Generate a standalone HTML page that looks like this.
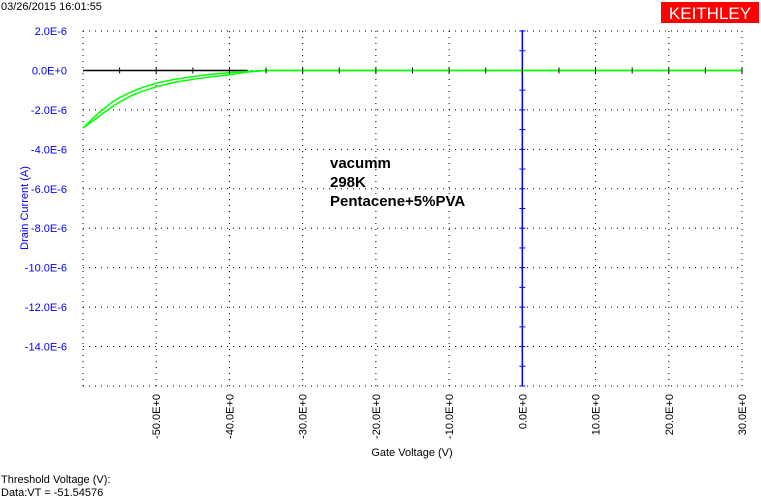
<!DOCTYPE html>
<html><head><meta charset="utf-8"><style>
html,body{margin:0;padding:0;background:#fff;width:761px;height:498px;overflow:hidden;font-family:"Liberation Sans",sans-serif;}
</style></head><body>
<svg id="chart" width="761" height="498" xmlns="http://www.w3.org/2000/svg" font-family="Liberation Sans, sans-serif">
<text x="1" y="10" font-size="11" fill="#000">03/26/2015 16:01:55</text>
<rect x="661" y="2" width="98" height="21" fill="#ff0000"/>
<text x="710" y="19" font-size="17" fill="#fff" text-anchor="middle">KEITHLEY</text>
<g id="grid"></g>
<g id="axes"></g>
<g id="series"></g>
<text x="330" y="168" font-size="15" font-weight="bold">vacumm</text>
<text x="330" y="187" font-size="15" font-weight="bold">298K</text>
<text x="330" y="206" font-size="15" font-weight="bold">Pentacene+5%PVA</text>
<text transform="translate(28,208) rotate(-90)" font-size="11" fill="#0000ff" text-anchor="middle">Drain Current (A)</text>
<text x="412" y="456" font-size="11" text-anchor="middle">Gate Voltage (V)</text>
<text x="1" y="483" font-size="11">Threshold Voltage (V):</text>
<text x="1" y="496" font-size="11">Data:VT = -51.54576</text>
</svg>
<script>
const xTicks=[-50,-40,-30,-20,-10,0,10,20,30];
const xTickLabels=["-50.0E+0","-40.0E+0","-30.0E+0","-20.0E+0","-10.0E+0","0.0E+0","10.0E+0","20.0E+0","30.0E+0"];
const yTicks=[2,0,-2,-4,-6,-8,-10,-12,-14];
const yTickLabels=["2.0E-6","0.0E+0","-2.0E-6","-4.0E-6","-6.0E-6","-8.0E-6","-10.0E-6","-12.0E-6","-14.0E-6"];
const gateV=[-60,-59,-58,-57,-56,-55,-53.5,-52,-50,-47.5,-45,-42.5,-40,-37.5,-35,-30,-20,-10,0,10,20,30];
const currentFwd=[-2.92,-2.55,-2.2,-1.9,-1.6,-1.38,-1.1,-0.88,-0.64,-0.45,-0.31,-0.19,-0.11,-0.05,0,0,0,0,0,0,0,0];
const currentRev=[-2.92,-2.65,-2.38,-2.1,-1.85,-1.6,-1.3,-1.07,-0.83,-0.6,-0.45,-0.32,-0.22,-0.08,0,0,0,0,0,0,0,0];
const NS="http://www.w3.org/2000/svg";
const X0=83,X1=742,Y0=31,Y1=386,xmin=-60,xmax=30,ymin=-16,ymax=2;
const sx=v=>X0+(v-xmin)/(xmax-xmin)*(X1-X0);
const sy=v=>Y0+(ymax-v)/(ymax-ymin)*(Y1-Y0);
function mk(tag,at,parent){const e=document.createElementNS(NS,tag);for(const k in at)e.setAttribute(k,at[k]);document.getElementById(parent).appendChild(e);return e;}
[-60,...xTicks].forEach(v=>{const l=mk('line',{x1:sx(v),x2:sx(v),y1:Y0,y2:Y1,stroke:'#000','stroke-dasharray':'1,5'},'grid');

});
[...yTicks,-16].forEach(v=>{const l=mk('line',{x1:X0,x2:X1,y1:sy(v),y2:sy(v),stroke:'#000','stroke-dasharray':'1,5'},'grid');

});
yTicks.forEach((v,i)=>{const t=mk('text',{x:67,y:sy(v)+4,'font-size':11,fill:'#0000ff','text-anchor':'end'},'axes');t.textContent=yTickLabels[i];

});
xTicks.forEach((v,i)=>{const t=mk('text',{transform:`translate(${sx(v)+4},394) rotate(-90)`,'font-size':11,fill:'#000','text-anchor':'end'},'axes');t.textContent=xTickLabels[i];

});
const zl=mk('line',{x1:X0,x2:sx(-37.5),y1:sy(0),y2:sy(0),stroke:'#000','stroke-width':1.5},'axes');


const va=mk('line',{x1:sx(0),x2:sx(0),y1:Y0-1,y2:Y1,stroke:'#0000ff','stroke-width':1.5},'axes');


for(let v=2;v>=-16;v--){const t=mk('line',{x1:sx(0)-3,x2:sx(0)+3,y1:sy(v),y2:sy(v),stroke:'#0000ff'},'axes');

}
[currentFwd,currentRev].forEach((arr,k)=>{const p=mk('polyline',{points:gateV.map((v,i)=>sx(v)+','+sy(arr[i])).join(' '),fill:'none',stroke:'#00ff00','stroke-width':1.5},'series');

});
for(let v=-55;v<=30;v+=5){const t=mk('line',{x1:sx(v),x2:sx(v),y1:sy(0)-3,y2:sy(0)+3,stroke:'#000'},'series');

}
</script>
</body></html>
